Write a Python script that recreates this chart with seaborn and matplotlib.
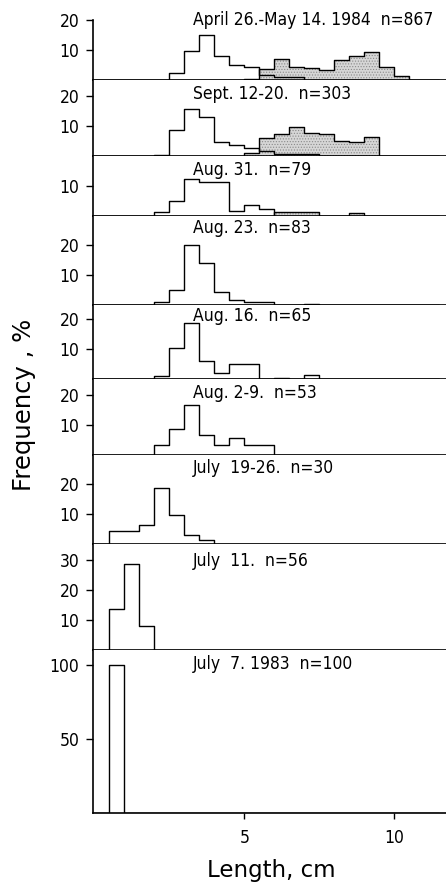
import numpy as np
import pandas as pd
import matplotlib
matplotlib.use("Agg")
import matplotlib.pyplot as plt
import seaborn as sns

sns.set_style("ticks")
plt.rcParams["font.family"] = ["DejaVu Sans"]
plt.rcParams["font.stretch"] = "condensed"
plt.rcParams["hatch.linewidth"] = 0.5
for key in ("text.color", "axes.edgecolor", "xtick.color", "ytick.color",
            "axes.labelcolor"):
    plt.rcParams[key] = "black"

# 0.5-cm length classes (lower edge, cm)
class_lower = [0.5, 1.0, 1.5, 2.0, 2.5, 3.0, 3.5, 4.0, 4.5, 5.0, 5.5,
               6.0, 6.5, 7.0, 7.5, 8.0, 8.5, 9.0, 9.5, 10.0, 10.5]

titles = ["April 26.-May 14. 1984  n=867", "Sept. 12-20.  n=303",
          "Aug. 31.  n=79", "Aug. 23.  n=83", "Aug. 16.  n=65",
          "Aug. 2-9.  n=53", "July  19-26.  n=30", "July  11.  n=56",
          "July  7. 1983  n=100"]

# frequency (%) per class, open histogram (small fish) and stippled (large fish)
open_apr = [0, 0, 0, 0, 2.4, 9.7, 15.0, 8.1, 5.0, 4.4, 1.7, 0.9, 0.9, 0, 0, 0, 0, 0, 0, 0, 0]
stip_apr = [0, 0, 0, 0, 0, 0, 0, 0, 0, 0.3, 3.6, 7.0, 4.4, 4.1, 3.3, 6.7, 8.0, 9.4, 4.4, 1.3, 0]
open_sep = [0, 0, 0, 0.3, 8.4, 15.6, 12.8, 4.5, 3.7, 2.5, 1.4, 0.7, 0.7, 0.7, 0, 0, 0, 0, 0, 0, 0]
stip_sep = [0, 0, 0, 0, 0, 0, 0, 0, 0, 0.8, 5.9, 7.1, 9.6, 7.7, 7.1, 5.0, 4.6, 6.3, 0, 0, 0]
open_a31 = [0, 0, 0, 1.3, 4.8, 12.4, 11.4, 11.4, 1.6, 3.5, 2.1, 0, 0, 0, 0, 0, 0, 0, 0, 0, 0]
stip_a31 = [0, 0, 0, 0, 0, 0, 0, 0, 0, 0, 0, 1.1, 1.1, 1.1, 0, 0, 1.0, 0, 0, 0, 0]
open_a23 = [0, 0, 0, 1.1, 5.1, 20.1, 14.1, 4.5, 1.7, 1.1, 1.1, 0, 0, 0, 0, 0, 0, 0, 0, 0, 0]
stip_a23 = [0, 0, 0, 0, 0, 0, 0, 0, 0, 0, 0, 0, 0, 0.5, 0, 0, 0, 0, 0, 0, 0]
open_a16 = [0, 0, 0, 1.1, 10.4, 18.6, 6.1, 1.9, 5.0, 5.0, 0, 0, 0, 1.4, 0, 0, 0, 0, 0, 0, 0]
stip_a16 = [0, 0, 0, 0, 0, 0, 0, 0, 0, 0, 0, 0.5, 0, 0, 0, 0, 0, 0, 0, 0, 0]
open_a02 = [0, 0, 0, 3.4, 8.5, 16.5, 6.6, 3.4, 5.5, 3.4, 3.4, 0, 0, 0, 0, 0, 0, 0, 0, 0, 0]
open_j19 = [4.5, 4.5, 6.2, 18.8, 9.7, 3.1, 1.4, 0, 0, 0, 0, 0, 0, 0, 0, 0, 0, 0, 0, 0, 0]
open_j11 = [13.5, 28.7, 7.9, 0, 0, 0, 0, 0, 0, 0, 0, 0, 0, 0, 0, 0, 0, 0, 0, 0, 0]
open_j07 = [100, 0, 0, 0, 0, 0, 0, 0, 0, 0, 0, 0, 0, 0, 0, 0, 0, 0, 0, 0, 0]

open_series = [open_apr, open_sep, open_a31, open_a23, open_a16, open_a02,
               open_j19, open_j11, open_j07]
stip_series = [stip_apr, stip_sep, stip_a31, stip_a23, stip_a16, None,
               None, None, None]

y_ticks = [[10, 20], [10, 20], [10], [10, 20], [10, 20], [10, 20], [10, 20],
           [10, 20, 30], [50, 100]]
y_tops = [26.7, 25.2, 20.0, 29.8, 24.7, 25.3, 29.7, 35.3, 110.1]
x_ticks = [5, 10]

# layout
heights_px = [80, 75.7, 60, 89.3, 74, 76, 89, 106, 163.3]
title_off = [7.9, 3.6, 3.8, 2.5, 1.4, 3.6, 2.9, 5.8, 3.6]

edges = [0.5 * k for k in range(24)]
centers = [c + 0.25 for c in class_lower]

fig = plt.figure(figsize=(4.46, 8.90), dpi=100)
gs = fig.add_gridspec(len(titles), 1, height_ratios=heights_px,
                      left=93.3 / 446, right=1.0, top=1.0,
                      bottom=1 - 813.3 / 890, hspace=0)

for i, title in enumerate(titles):
    ax = fig.add_subplot(gs[i])
    st = stip_series[i]
    if st is not None:
        df_s = pd.DataFrame({"length": centers, "freq": st})
        sns.histplot(data=df_s, x="length", weights="freq", bins=edges,
                     element="step", fill=True, color="#d6d6d6", alpha=1,
                     linewidth=0, ax=ax)
        poly = ax.collections[-1]
        poly.set_hatch("......")
        poly.set_edgecolor("#8a8a8a")
        poly.set_linewidth(0)
        sns.histplot(data=df_s, x="length", weights="freq", bins=edges,
                     element="step", fill=False, color="black",
                     linewidth=1.0, ax=ax)
    df_o = pd.DataFrame({"length": centers, "freq": open_series[i]})
    sns.histplot(data=df_o, x="length", weights="freq", bins=edges,
                 element="step", fill=False, color="black", linewidth=1.0,
                 ax=ax)

    ax.set_xlim(-0.03, 11.72)
    ax.set_ylim(0, y_tops[i])
    ax.set_xlabel("")
    ax.set_ylabel("")
    ax.set_yticks(y_ticks[i])
    ax.tick_params(axis="y", direction="out", length=5, width=1.0,
                   pad=5, labelsize=12.5)
    for side in ("top", "right"):
        ax.spines[side].set_visible(False)
    for side in ("left", "bottom"):
        ax.spines[side].set_linewidth(1.2)
    if i == 0:
        ax.spines["left"].set_bounds(0, 20)
    if i == len(titles) - 1:
        ax.set_xticks(x_ticks)
        ax.tick_params(axis="x", direction="out", length=4, width=1.0,
                       pad=7, labelsize=12.5)
    else:
        ax.set_xticks([])
    ax.annotate(title, xy=(3.3, 1), xycoords=("data", "axes fraction"),
                xytext=(0, -title_off[i]), textcoords="offset points",
                ha="left", va="top", fontsize=12.5, annotation_clip=False)

fig.text(24 / 446, 1 - 405 / 890, "Frequency , %", rotation=90,
         ha="center", va="center", fontsize=17.5, fontstretch="normal")
fig.text(271 / 446, 1 - 877 / 890, "Length, cm", ha="center",
         va="baseline", fontsize=16.5, fontstretch="normal")

fig.savefig("out.png", dpi=100)
